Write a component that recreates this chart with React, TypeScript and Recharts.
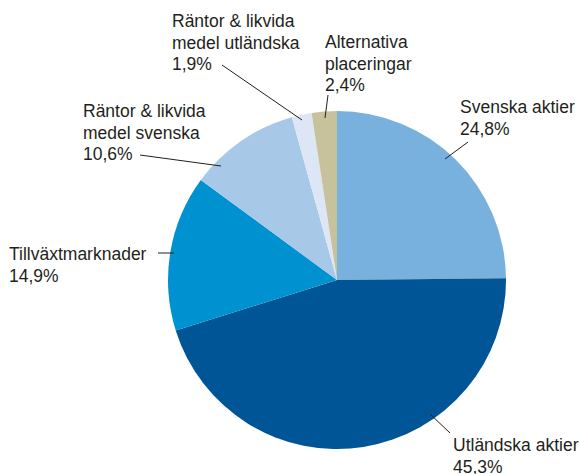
import { PieChart, Pie, Cell } from 'recharts'

const CATEGORIES = [
  'Svenska aktier',
  'Utländska aktier',
  'Tillväxtmarknader',
  'Räntor & likvida medel svenska',
  'Räntor & likvida medel utländska',
  'Alternativa placeringar',
]
const SHARES = [24.8, 45.3, 14.9, 10.6, 1.9, 2.4]
const LABEL_LINES = [
  ['Svenska aktier'],
  ['Utländska aktier'],
  ['Tillväxtmarknader'],
  ['Räntor & likvida', 'medel svenska'],
  ['Räntor & likvida', 'medel utländska'],
  ['Alternativa', 'placeringar'],
]

const COLORS = ['#78B1DE', '#005596', '#0092D0', '#A8C8E8', '#DCE6F4', '#C8C29C']

// label placement relative to pie centre: text left/first baseline, leader line from -> to
const LABEL_LAYOUT = [
  { tx: 123, ty: -167, line: [108, -121, 131, -138] },
  { tx: 116, ty: 171, line: [93, 134, 113, 153] },
  { tx: -328, ty: -20, line: [-179, -27, -163, -27] },
  { tx: -254, ty: -163, line: [-197, -125, -116, -114] },
  { tx: -165, ty: -253, line: [-115, -215, -35, -160] },
  { tx: -12, ty: -232, line: [-9, -185, -12, -162] },
]

const data = CATEGORIES.map((name, i) => ({ name, value: SHARES[i] }))

const TEXT = '#231F20'
const LINE_H = 21.5

function renderLabel(props: any) {
  const { cx, cy, index } = props
  const lay = LABEL_LAYOUT[index]
  const lines = [...LABEL_LINES[index], SHARES[index].toFixed(1).replace('.', ',') + '%']
  const [x1, y1, x2, y2] = lay.line
  return (
    <g key={`lbl-${index}`}>
      <line x1={cx + x1} y1={cy + y1} x2={cx + x2} y2={cy + y2} stroke={TEXT} strokeWidth={1} />
      <text x={cx + lay.tx} y={cy + lay.ty} fill={TEXT} fontSize={17.5} fontFamily="'Liberation Sans', Arial, sans-serif">
        {lines.map((t, k) => (
          <tspan key={k} x={cx + lay.tx} dy={k === 0 ? 0 : LINE_H}>{t}</tspan>
        ))}
      </text>
    </g>
  )
}

export default function App() {
  return (
    <div style={{ position: 'absolute', left: 0, top: 0, width: 580, height: 474, background: '#fff', overflow: 'hidden' }}>
      <PieChart width={580} height={474} margin={{ top: 0, right: 0, bottom: 0, left: 0 }}>
        <Pie
          data={data}
          dataKey="value"
          nameKey="name"
          cx={337}
          cy={280}
          outerRadius={169}
          startAngle={90}
          endAngle={-270}
          stroke="none"
          label={renderLabel}
          labelLine={false}
          isAnimationActive={false}
        >
          {data.map((d, i) => (
            <Cell key={d.name} fill={COLORS[i]} />
          ))}
        </Pie>
      </PieChart>
    </div>
  )
}
